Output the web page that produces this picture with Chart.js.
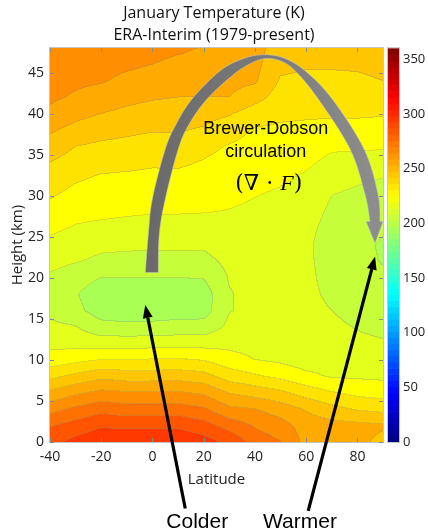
<!DOCTYPE html>
<html>
<head>
<meta charset="utf-8">
<script src="https://cdn.jsdelivr.net/npm/chart.js@4.4.0/dist/chart.umd.min.js"></script>
<style>
	html, body { margin: 0; padding: 0; background: #fff; }
</style>
</head>
<body>
<canvas id="myChart" width="428" height="532"></canvas>
<script>
// grid: latitude columns, height rows (km)
const latitudes = [-40, -30, -20, -10, 0, 10, 20, 30, 40, 50, 60, 70, 80, 90];
const heights = [0, 2, 4, 6, 8, 10, 12, 14, 16, 18, 20, 22, 24, 26, 28, 30, 32, 34, 36, 38, 40, 42, 44, 46, 48];

// temperature (K) at each height, one array per latitude
const tLatM40 = [287, 279, 266.5, 252, 237, 224, 217, 212, 208, 206, 208.5, 213, 217.5, 222, 226.5, 231, 235.3, 239.8, 245.6, 251.5, 257.6, 262, 264.5, 266, 268];
const tLatM30 = [293, 284, 272, 258, 242.3, 227, 216.5, 210.5, 203, 201, 205, 210.6, 215, 219, 223, 227, 231, 235.5, 240, 247, 253, 258.7, 262, 265, 267];
const tLatM20 = [297, 289, 276.5, 262.3, 247, 230, 215.3, 203.5, 195, 193, 200, 208, 212.2, 217.8, 222, 226.8, 228.5, 233.2, 238, 244, 250, 255.5, 261, 263.5, 266];
const tLatM10 = [298, 287.5, 274, 260.8, 245, 230, 215.5, 202.5, 194, 192.5, 200, 207, 212, 217.5, 221, 225, 228, 232.3, 237, 242.2, 247.8, 252.7, 257.5, 262, 264];
const tLat0 = [298, 288, 274.5, 261, 245, 230.5, 215.5, 203, 194, 192.5, 200, 207, 211.5, 217, 220.5, 224, 227.5, 231.2, 235.7, 240.7, 246.3, 250.9, 255.5, 260, 263];
const tLat10 = [298, 288, 274.5, 261, 245.5, 231, 216, 204, 195, 193.5, 200, 207, 211.5, 217, 220.5, 224, 227.5, 231.4, 236.3, 240.8, 245.7, 250, 254, 258, 261.5];
const tLat20 = [294, 284, 271.3, 258, 243.6, 229.3, 216, 204, 195.5, 194.5, 200.5, 207, 211.5, 216, 220.3, 223.5, 226.5, 229.3, 232.5, 239, 243.5, 250, 254, 257, 259.5];
const tLat30 = [288, 276, 262, 249.3, 235.3, 224, 217, 212, 209.5, 209.5, 210.5, 212.5, 215, 217.5, 219.6, 222, 224.5, 227, 229.3, 234, 241, 250, 253, 255, 257];
const tLat40 = [276, 269, 260, 245.7, 231.4, 220, 216, 213.5, 212.5, 212, 212.5, 213.5, 215, 216.5, 218.2, 220.3, 223, 225, 227, 229, 235, 244, 251.5, 253, 254];
const tLat50 = [270.5, 264, 255.3, 242, 227.3, 218, 215, 213, 212, 211.5, 211.5, 212.3, 213.5, 215, 216.5, 218.5, 221.3, 223.5, 226, 228.5, 231.8, 235.5, 239, 242.5, 245];
const tLat60 = [257, 255.5, 249, 235.5, 222.3, 215, 213, 212.5, 212.5, 212, 211.8, 211.5, 211.2, 212, 213.5, 215.8, 218.4, 221.6, 224.8, 228, 231.3, 234.6, 237.9, 241, 243.5];
const tLat70 = [255, 253.5, 243, 230.6, 219, 216.5, 214, 212, 210, 208.5, 207.5, 207, 207, 207.5, 208.5, 210, 213.5, 217.5, 221.5, 227, 231.3, 234.5, 238, 241, 243.5];
const tLat80 = [252, 252.5, 238.8, 227.2, 218.5, 215.5, 212, 209.5, 207, 205, 203.5, 202.5, 202.5, 203.5, 205.5, 208, 211.3, 216.5, 221.5, 226.7, 231.4, 234.7, 238.2, 241.5, 244];
const tLat90 = [248, 251, 236.9, 225.5, 218, 215, 211, 207.5, 205, 202.5, 201.5, 199.5, 199, 201, 203, 206.5, 209.8, 215.5, 221.2, 226, 230.9, 235.5, 240, 243, 245.5];

const tempByLat = [tLatM40, tLatM30, tLatM20, tLatM10, tLat0, tLat10, tLat20, tLat30, tLat40, tLat50, tLat60, tLat70, tLat80, tLat90];

const contourStep = 10;
const colorMin = 0;
const colorMax = 360;
const colorbarTicks = [0, 50, 100, 150, 200, 250, 300, 350];
const latTicks = [-40, -20, 0, 20, 40, 60, 80];
const heightTicks = [0, 5, 10, 15, 20, 25, 30, 35, 40, 45];

const FONT = "'Open Sans', 'DejaVu Sans', sans-serif";

// MATLAB style jet colormap
function jet(v) {
	const c = (x) => Math.max(0, Math.min(1, x));
	return [
		Math.round(255 * c(1.5 - Math.abs(4 * v - 3))),
		Math.round(255 * c(1.5 - Math.abs(4 * v - 2))),
		Math.round(255 * c(1.5 - Math.abs(4 * v - 1)))
	];
}

function sampleTemp(lat, h) {
	const dLat = latitudes[1] - latitudes[0];
	const dH = heights[1] - heights[0];
	let fi = (lat - latitudes[0]) / dLat;
	let fj = (h - heights[0]) / dH;
	fi = Math.max(0, Math.min(latitudes.length - 1.0001, fi));
	fj = Math.max(0, Math.min(heights.length - 1.0001, fj));
	const i = Math.floor(fi), j = Math.floor(fj);
	const a = fi - i, b = fj - j;
	const t00 = tempByLat[i][j], t10 = tempByLat[i + 1][j];
	const t01 = tempByLat[i][j + 1], t11 = tempByLat[i + 1][j + 1];
	return (t00 * (1 - a) + t10 * a) * (1 - b) + (t01 * (1 - a) + t11 * a) * b;
}

const contourPlugin = {
	id: "contour_fill",
	beforeDatasetsDraw: (chart) => {
		const ctx = chart.ctx;
		const ca = chart.chartArea;
		const xs = chart.scales.x, ys = chart.scales.y;
		const x0 = Math.round(ca.left), y0 = Math.round(ca.top);
		const w = Math.round(ca.right) - x0, h = Math.round(ca.bottom) - y0;
		const band = new Int16Array(w * h);
		for (let j = 0; j < h; j++) {
			const hv = ys.getValueForPixel(y0 + j + 0.5);
			for (let i = 0; i < w; i++) {
				const lv = xs.getValueForPixel(x0 + i + 0.5);
				band[j * w + i] = Math.floor(sampleTemp(lv, hv) / contourStep);
			}
		}
		const img = ctx.createImageData(w, h);
		const d = img.data;
		for (let j = 0; j < h; j++) {
			for (let i = 0; i < w; i++) {
				const k = band[j * w + i];
				let col = jet((k * contourStep + contourStep / 2 - colorMin) / (colorMax - colorMin));
				const edge = (i < w - 1 && band[j * w + i + 1] !== k) || (j < h - 1 && band[(j + 1) * w + i] !== k);
				if (edge) col = col.map((c) => Math.round(c * 0.72 + 130 * 0.28));
				const p = (j * w + i) * 4;
				d[p] = col[0]; d[p + 1] = col[1]; d[p + 2] = col[2]; d[p + 3] = 255;
			}
		}
		ctx.putImageData(img, x0, y0);

		// frame and inward ticks
		ctx.save();
		ctx.strokeStyle = "#c4c4c4";
		ctx.lineWidth = 1;
		ctx.strokeRect(x0 - 0.5, y0 - 0.5, w + 1, h + 1);
		ctx.strokeStyle = "#8a8a8a";
		ctx.beginPath();
		latTicks.forEach((v) => {
			const px = Math.round(xs.getPixelForValue(v)) + 0.5;
			ctx.moveTo(px, y0 + h); ctx.lineTo(px, y0 + h - 4);
			ctx.moveTo(px, y0); ctx.lineTo(px, y0 + 4);
		});
		heightTicks.forEach((v) => {
			const py = Math.round(ys.getPixelForValue(v)) + 0.5;
			ctx.moveTo(x0, py); ctx.lineTo(x0 + 4, py);
			ctx.moveTo(x0 + w, py); ctx.lineTo(x0 + w - 4, py);
		});
		ctx.stroke();

		// colorbar
		const cs = chart.scales.c;
		const cbLeft = cs.left + 5, cbWidth = 11;
		const nColors = 64;
		for (let k = 0; k < nColors; k++) {
			const v0 = colorMin + (k * (colorMax - colorMin)) / nColors;
			const v1 = colorMin + ((k + 1) * (colorMax - colorMin)) / nColors;
			const col = jet((k + 0.5) / nColors);
			const yA = cs.getPixelForValue(v1), yB = cs.getPixelForValue(v0);
			ctx.fillStyle = `rgb(${col[0]},${col[1]},${col[2]})`;
			ctx.fillRect(cbLeft, yA, cbWidth, yB - yA + 0.6);
		}
		ctx.strokeStyle = "#c4c4c4";
		ctx.strokeRect(cbLeft - 0.5, cs.top - 0.5, cbWidth + 1, cs.bottom - cs.top + 1);
		ctx.restore();
	}
};

// annotation geometry, given in (latitude, km)
const archOuter = [[-2.8, 20.65], [-1.63, 25.3], [-0.07, 29.59], [5.0, 35.7], [9.29, 38.76], [15.53, 41.83], [26.44, 45.25], [35.41, 46.72], [43.21, 47.21], [51.01, 46.84], [59.59, 45.25], [70.11, 41.83], [82.59, 35.7], [88.05, 30.2], [88.83, 26.89]];
const archInner = [[2.27, 20.65], [2.66, 25.3], [5.0, 29.59], [10.07, 35.7], [14.36, 38.76], [21.38, 41.83], [31.51, 44.76], [38.14, 46.11], [43.6, 46.72], [49.84, 46.48], [55.69, 45.25], [64.66, 41.83], [77.14, 35.7], [82.98, 30.2], [84.93, 26.89]];
const archHead = [[90.0, 26.89], [86.9, 24.2], [83.4, 26.89]];
const colderArrow = [[12.8, -8.1], [-2.8, 16.7]];
const warmerArrow = [[60.8, -8.4], [86.9, 22.6]];

function smoothPath(ctx, pts, moveFirst) {
	if (moveFirst) ctx.moveTo(pts[0][0], pts[0][1]);
	else ctx.lineTo(pts[0][0], pts[0][1]);
	for (let i = 0; i < pts.length - 1; i++) {
		const p0 = pts[Math.max(0, i - 1)], p1 = pts[i], p2 = pts[i + 1], p3 = pts[Math.min(pts.length - 1, i + 2)];
		ctx.bezierCurveTo(
			p1[0] + (p2[0] - p0[0]) / 6, p1[1] + (p2[1] - p0[1]) / 6,
			p2[0] - (p3[0] - p1[0]) / 6, p2[1] - (p3[1] - p1[1]) / 6,
			p2[0], p2[1]
		);
	}
}

const annotationPlugin = {
	id: "annotations",
	afterDraw: (chart) => {
		const ctx = chart.ctx;
		const xs = chart.scales.x, ys = chart.scales.y;
		const P = (p) => [xs.getPixelForValue(p[0]), ys.getPixelForValue(p[1])];

		ctx.save();
		// Brewer-Dobson arch
		const outer = archOuter.map(P), inner = archInner.map(P).reverse(), head = archHead.map(P);
		ctx.beginPath();
		smoothPath(ctx, outer, true);
		head.forEach((p) => ctx.lineTo(p[0], p[1]));
		smoothPath(ctx, inner, false);
		ctx.closePath();
		const grad = ctx.createLinearGradient(outer[0][0], 0, head[0][0], 0);
		grad.addColorStop(0, "#696969");
		grad.addColorStop(0.45, "#787878");
		grad.addColorStop(1, "#8e8e8e");
		ctx.fillStyle = grad;
		ctx.fill();
		ctx.strokeStyle = "rgba(195,195,195,0.7)";
		ctx.lineWidth = 0.8;
		ctx.stroke();

		// black arrows
		[colderArrow, warmerArrow].forEach((arr) => {
			const a = P(arr[0]), b = P(arr[1]);
			const ang = Math.atan2(b[1] - a[1], b[0] - a[0]);
			const len = 13, half = 5;
			const bx = b[0] - len * Math.cos(ang), by = b[1] - len * Math.sin(ang);
			ctx.strokeStyle = "#000";
			ctx.lineWidth = 3.2;
			ctx.beginPath();
			ctx.moveTo(a[0], a[1]);
			ctx.lineTo(bx, by);
			ctx.stroke();
			ctx.fillStyle = "#000";
			ctx.beginPath();
			ctx.moveTo(b[0], b[1]);
			ctx.lineTo(bx + half * Math.sin(ang), by - half * Math.cos(ang));
			ctx.lineTo(bx - half * Math.sin(ang), by + half * Math.cos(ang));
			ctx.closePath();
			ctx.fill();
		});

		// texts
		ctx.fillStyle = "#000";
		ctx.textAlign = "center";
		ctx.textBaseline = "middle";
		ctx.font = "18px 'Liberation Sans', Arial, sans-serif";
		let p = P([44.2, 38.2]);
		ctx.fillText("Brewer-Dobson", p[0], p[1]);
		p = P([44.2, 35.4]);
		ctx.fillText("circulation", p[0], p[1]);

		p = P([45.4, 31.4]);
		const upright = "22px 'DejaVu Serif', 'Liberation Serif', serif";
		const italic = "italic 22px 'Liberation Serif', 'DejaVu Serif', serif";
		const parts = [["(\u2207 \u00b7 ", upright], ["F", italic], [")", upright]];
		let total = 0;
		parts.forEach((q) => { ctx.font = q[1]; total += ctx.measureText(q[0]).width; });
		let cx = p[0] - total / 2;
		ctx.textAlign = "left";
		parts.forEach((q) => {
			ctx.font = q[1];
			ctx.fillText(q[0], cx, p[1]);
			cx += ctx.measureText(q[0]).width;
		});

		ctx.textAlign = "center";
		ctx.font = "21px 'Liberation Sans', Arial, sans-serif";
		p = P([17.5, -9.75]);
		ctx.fillText("Colder", p[0], p[1]);
		p = P([57.6, -9.75]);
		ctx.fillText("Warmer", p[0], p[1]);
		ctx.restore();
	}
};

const ctx = document.getElementById("myChart").getContext("2d");
new Chart(ctx, {
	type: "scatter",
	data: { datasets: [] },
	plugins: [contourPlugin, annotationPlugin],
	options: {
		responsive: false,
		animation: false,
		layout: { padding: { left: 0, right: 0, top: 0, bottom: 43 } },
		plugins: {
			legend: { display: false },
			tooltip: { enabled: false },
			title: {
				display: true,
				text: ["January Temperature (K)", "ERA-Interim (1979-present)"],
				color: "#111",
				font: { family: FONT, size: 16, weight: "normal", lineHeight: 1.35 },
				padding: { top: 3, bottom: 2 }
			}
		},
		scales: {
			x: {
				type: "linear",
				min: -40,
				max: 90,
				afterBuildTicks: (s) => { s.ticks = latTicks.map((v) => ({ value: v })); },
				afterFit: (s) => { s.height = 47; },
				ticks: { color: "#222", font: { family: FONT, size: 14 }, padding: 7, maxRotation: 0 },
				grid: { display: false, drawTicks: false },
				border: { display: false },
				title: { display: true, text: "Latitude", color: "#222", font: { family: FONT, size: 15 }, padding: { top: 0, bottom: 0 } }
			},
			y: {
				type: "linear",
				min: 0,
				max: 48,
				afterBuildTicks: (s) => { s.ticks = heightTicks.map((v) => ({ value: v })); },
				afterFit: (s) => { s.width = 50; },
				ticks: { color: "#222", font: { family: FONT, size: 14 }, padding: 6 },
				grid: { display: false, drawTicks: false },
				border: { display: false },
				title: { display: true, text: "Height (km)", color: "#222", font: { family: FONT, size: 15 }, padding: { top: 9, bottom: 0 } }
			},
			c: {
				type: "linear",
				position: "right",
				min: colorMin,
				max: colorMax,
				afterBuildTicks: (s) => { s.ticks = colorbarTicks.map((v) => ({ value: v })); },
				afterFit: (s) => { s.width = 45; },
				ticks: { color: "#222", font: { family: FONT, size: 13 }, padding: 20 },
				grid: { display: false, drawTicks: false },
				border: { display: false }
			}
		}
	}
});
</script>
</body>
</html>
